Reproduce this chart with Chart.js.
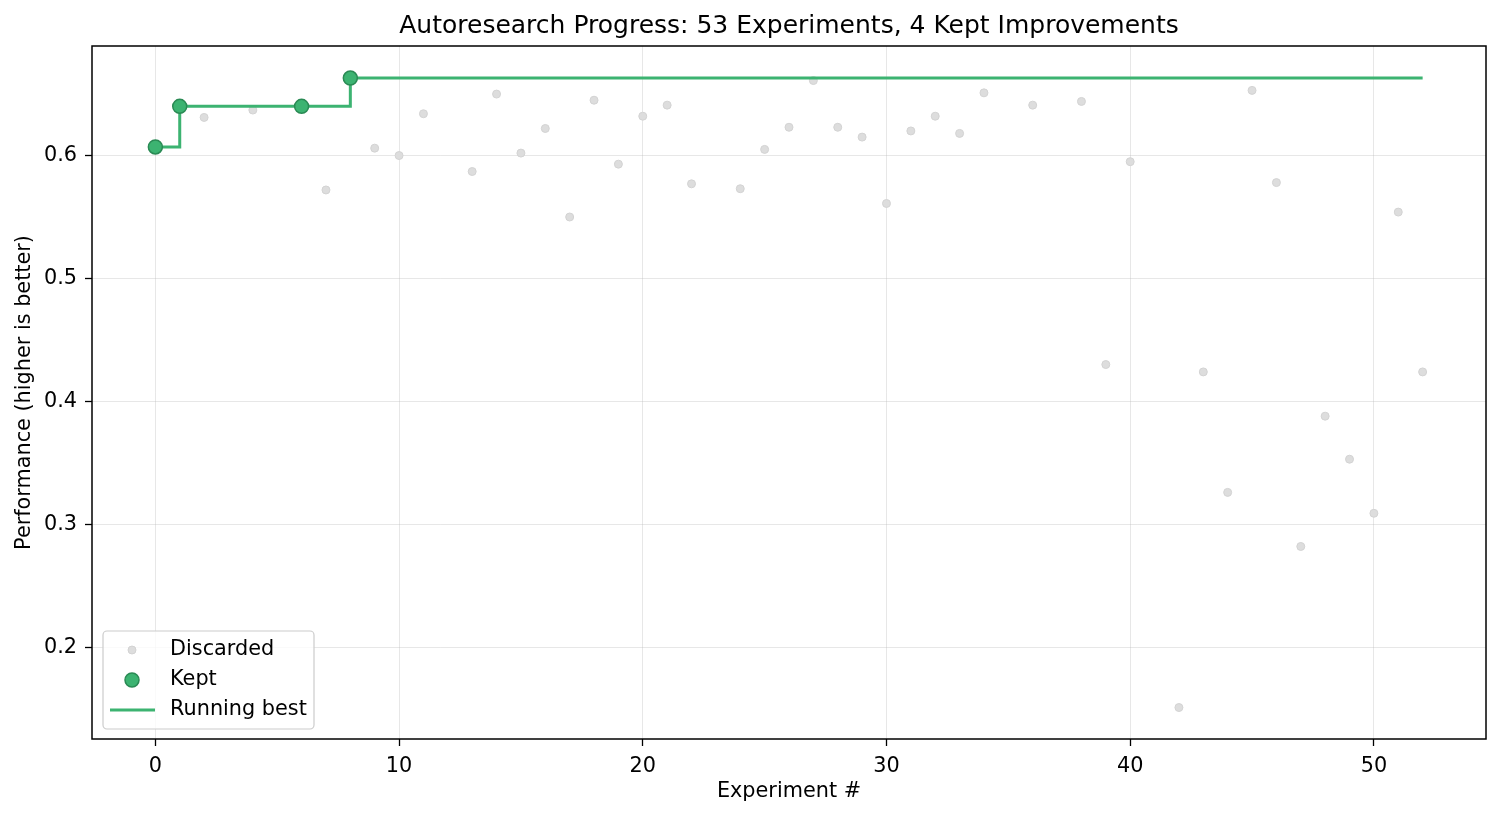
<!DOCTYPE html>
<html>
<head>
<meta charset="utf-8">
<script src="https://cdn.jsdelivr.net/npm/chart.js@4.4.1/dist/chart.umd.min.js"></script>
<style>
  html, body { margin: 0; padding: 0; background: #fff; }
  #wrap { width: 1501px; height: 817px; }
</style>
</head>
<body>
<div id="wrap"><canvas id="myChart"></canvas></div>
<script>
// experiment numbers and scores
discardedX = [2, 4, 7, 9, 10, 11, 13, 14, 15, 16, 17, 18, 19, 20, 21, 22, 24, 25, 26, 27, 28, 29, 30, 31, 32, 33, 34, 36, 38, 39, 40, 42, 43, 44, 45, 46, 47, 48, 49, 50, 51, 52]
discardedY = [0.631, 0.637, 0.572, 0.606, 0.600, 0.634, 0.587, 0.650, 0.602, 0.622, 0.550, 0.645, 0.593, 0.632, 0.641, 0.577, 0.573, 0.605, 0.623, 0.661, 0.623, 0.615, 0.561, 0.620, 0.632, 0.618, 0.651, 0.641, 0.644, 0.430, 0.595, 0.151, 0.424, 0.326, 0.653, 0.578, 0.282, 0.388, 0.353, 0.309, 0.554, 0.424]
keptX = [0, 1, 6, 8]
keptY = [0.607, 0.640, 0.640, 0.663]
bestX = [0, 1, 6, 8, 52]
bestY = [0.607, 0.640, 0.640, 0.663, 0.663]
xTicks = [0, 10, 20, 30, 40, 50]
yTicks = [0.2, 0.3, 0.4, 0.5, 0.6]

const FONT = "'DejaVu Sans', sans-serif";
const green = '#3cb371';

function pts(xs, ys) {
    return xs.map((x, i) => ({x: x, y: ys[i]}));
}

// title centred over the axes + full frame like matplotlib
const framePlugin = {
    id: 'frame',
    afterDraw(chart) {
        const a = chart.chartArea, ctx = chart.ctx;
        ctx.save();
        ctx.strokeStyle = '#000';
        ctx.lineWidth = 1.5;
        ctx.strokeRect(a.left, a.top, a.right - a.left, a.bottom - a.top);
        ctx.fillStyle = '#000';
        ctx.font = "25px " + FONT;
        ctx.textAlign = 'center';
        ctx.textBaseline = 'middle';
        ctx.fillText('Autoresearch Progress: 53 Experiments, 4 Kept Improvements', (a.left + a.right) / 2, 26);
        ctx.restore();
    }
};

// lower-left legend box
const legendPlugin = {
    id: 'boxLegend',
    afterDraw(chart) {
        const a = chart.chartArea, ctx = chart.ctx;
        const x0 = a.left + 11, y0 = a.bottom - 108, w = 211, h = 98;
        ctx.save();
        ctx.fillStyle = 'rgba(255,255,255,0.8)';
        ctx.strokeStyle = '#cccccc';
        ctx.lineWidth = 1.2;
        ctx.beginPath();
        ctx.roundRect(x0, y0, w, h, 4);
        ctx.fill();
        ctx.stroke();
        const ds = chart.data.datasets;
        const rows = [y0 + 19, y0 + 49, y0 + 79];
        // discarded marker
        ctx.fillStyle = ds[2].backgroundColor;
        ctx.strokeStyle = ds[2].borderColor;
        ctx.lineWidth = 1;
        ctx.beginPath(); ctx.arc(x0 + 29, rows[0], 4, 0, Math.PI * 2); ctx.fill(); ctx.stroke();
        // kept marker
        ctx.fillStyle = ds[0].backgroundColor;
        ctx.strokeStyle = ds[0].borderColor;
        ctx.lineWidth = 1.5;
        ctx.beginPath(); ctx.arc(x0 + 29, rows[1], 7, 0, Math.PI * 2); ctx.fill(); ctx.stroke();
        // running best line
        ctx.strokeStyle = ds[1].borderColor;
        ctx.lineWidth = 3;
        ctx.beginPath(); ctx.moveTo(x0 + 7, rows[2]); ctx.lineTo(x0 + 52, rows[2]); ctx.stroke();
        ctx.fillStyle = '#000';
        ctx.font = "20.8px " + FONT;
        ctx.textBaseline = 'middle';
        ctx.textAlign = 'left';
        [ds[2].label, ds[0].label, ds[1].label].forEach((t, i) => ctx.fillText(t, x0 + 67, rows[i]));
        ctx.restore();
    }
};

let myChart = document.getElementById('myChart').getContext('2d');
let chart = new Chart(myChart, {
    type: 'scatter',
    data: {
        datasets: [
            {
                label: 'Kept',
                data: pts(keptX, keptY),
                backgroundColor: green,
                borderColor: '#2a8a54',
                borderWidth: 1.5,
                pointRadius: 7,
                order: 0
            },
            {
                type: 'line',
                label: 'Running best',
                data: pts(bestX, bestY),
                borderColor: green,
                borderWidth: 3,
                stepped: 'before',
                pointRadius: 0,
                fill: false,
                order: 1
            },
            {
                label: 'Discarded',
                data: pts(discardedX, discardedY),
                backgroundColor: '#dddddd',
                borderColor: '#d3d3d3',
                borderWidth: 1,
                pointRadius: 4,
                order: 2
            }
        ]
    },
    options: {
        responsive: true,
        maintainAspectRatio: false,
        animation: false,
        devicePixelRatio: 1,
        layout: { padding: { top: 46, right: 15, left: 0, bottom: 0 } },
        plugins: {
            legend: { display: false },
            tooltip: { enabled: false },
            title: { display: false }
        },
        scales: {
            x: {
                type: 'linear',
                min: -2.6,
                max: 54.6,
                afterBuildTicks: s => { s.ticks = xTicks.map(v => ({value: v})); },
                afterFit: s => { s.height = 78; },
                ticks: { color: '#000', font: { family: FONT, size: 20.8 }, padding: 8, maxRotation: 0 },
                grid: { color: 'rgba(176,176,176,0.3)', tickColor: '#000', tickLength: 7, tickWidth: 1.3 },
                border: { display: false },
                title: { display: true, text: 'Experiment #', color: '#000', font: { family: FONT, size: 20.8 }, padding: { top: 0, bottom: 13 } }
            },
            y: {
                type: 'linear',
                min: 0.1254,
                max: 0.6891,
                afterBuildTicks: s => { s.ticks = yTicks.map(v => ({value: v})); },
                afterFit: s => { s.width = 92; },
                ticks: { color: '#000', font: { family: FONT, size: 20.8 }, padding: 8, callback: v => v.toFixed(1) },
                grid: { color: 'rgba(176,176,176,0.3)', tickColor: '#000', tickLength: 7, tickWidth: 1.3 },
                border: { display: false },
                title: { display: true, text: 'Performance (higher is better)', color: '#000', font: { family: FONT, size: 20.8 }, padding: { top: 12, bottom: 0 } }
            }
        }
    },
    plugins: [framePlugin, legendPlugin]
});
</script>
</body>
</html>
